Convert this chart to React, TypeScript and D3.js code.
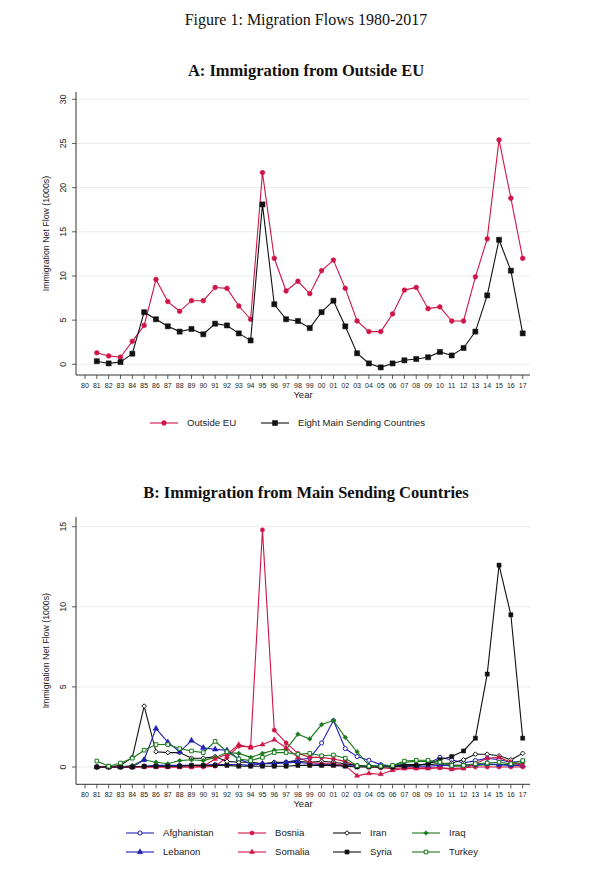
import * as d3 from "d3";

// years with data (1981-2017), x ticks run 1980-2017
const years = [
  1981, 1982, 1983, 1984, 1985, 1986, 1987, 1988, 1989, 1990,
  1991, 1992, 1993, 1994, 1995, 1996, 1997, 1998, 1999, 2000,
  2001, 2002, 2003, 2004, 2005, 2006, 2007, 2008, 2009, 2010,
  2011, 2012, 2013, 2014, 2015, 2016, 2017,
];
const tickYears = [
  1980, 1981, 1982, 1983, 1984, 1985, 1986, 1987, 1988, 1989, 1990,
  1991, 1992, 1993, 1994, 1995, 1996, 1997, 1998, 1999, 2000,
  2001, 2002, 2003, 2004, 2005, 2006, 2007, 2008, 2009, 2010,
  2011, 2012, 2013, 2014, 2015, 2016, 2017,
];
const tickLabels = [
  "80", "81", "82", "83", "84", "85", "86", "87", "88", "89", "90",
  "91", "92", "93", "94", "95", "96", "97", "98", "99", "00",
  "01", "02", "03", "04", "05", "06", "07", "08", "09", "10",
  "11", "12", "13", "14", "15", "16", "17",
];

// panel A
const outsideEU = [
  1.3, 0.95, 0.8, 2.6, 4.4, 9.6, 7.1, 6.0, 7.2, 7.2,
  8.7, 8.6, 6.6, 5.1, 21.7, 12.0, 8.3, 9.4, 8.0, 10.6,
  11.8, 8.6, 4.9, 3.7, 3.7, 5.7, 8.4, 8.7, 6.3, 6.5,
  4.9, 4.9, 9.9, 14.2, 25.4, 18.8, 12.0,
];
const eightMain = [
  0.35, 0.1, 0.25, 1.2, 5.9, 5.1, 4.3, 3.7, 4.0, 3.4,
  4.6, 4.4, 3.5, 2.7, 18.1, 6.8, 5.1, 4.9, 4.1, 5.9,
  7.2, 4.3, 1.25, 0.1, -0.35, 0.1, 0.45, 0.6, 0.8, 1.4,
  1.0, 1.85, 3.7, 7.8, 14.1, 10.6, 3.5,
];
const ticksA = [0, 5, 10, 15, 20, 25, 30];

// panel B
const afghanistan = [
  0, 0, 0, 0, 0.05, 0.1, 0.1, 0.1, 0.1, 0.1,
  0.15, 0.15, 0.15, 0.1, 0.2, 0.25, 0.3, 0.45, 0.55, 1.5,
  2.9, 1.15, 0.65, 0.42, 0.15, 0.06, 0.1, 0.1, 0.2, 0.6,
  0.45, 0.25, 0.4, 0.55, 0.45, 0.3, 0.35,
];
const bosnia = [
  0, 0, 0, 0, 0, 0, 0, 0, 0, 0,
  0.05, 0.6, 1.3, 1.25, 14.8, 2.3, 1.5, 0.85, 0.6, 0.6,
  0.5, 0.35, 0.05, 0, -0.05, -0.1, -0.05, -0.05, -0.05, -0.05,
  -0.1, -0.05, 0, 0, 0, 0, 0,
];
const iran = [
  0, 0, 0.1, 0.6, 3.8, 0.95, 0.9, 0.9, 0.55, 0.55,
  0.65, 0.35, 0.3, 0.3, 0.2, 0.3, 0.3, 0.35, 0.3, 0.35,
  0.3, 0.2, 0.1, 0.05, 0.05, 0.1, 0.15, 0.15, 0.15, 0.2,
  0.25, 0.45, 0.8, 0.8, 0.7, 0.45, 0.85,
];
const iraq = [
  0, 0, 0, 0.1, 0.45, 0.3, 0.2, 0.4, 0.45, 0.4,
  0.6, 0.9, 0.85, 0.6, 0.85, 1.05, 1.1, 2.05, 1.75, 2.65,
  2.9, 1.85, 0.95, 0.12, 0.02, 0.06, 0.3, 0.35, 0.35, 0.2,
  0.05, 0.05, 0.1, 0.15, 0.15, 0.15, 0.25,
];
const lebanon = [
  0, 0, 0, 0, 0.45, 2.4, 1.55, 0.95, 1.65, 1.2,
  1.1, 1.05, 0.5, 0.2, 0.2, 0.2, 0.25, 0.3, 0.2, 0.15,
  0.15, 0.1, 0.05, 0.05, 0.05, 0.05, 0.05, 0.05, 0.05, 0.1,
  0.1, 0.1, 0.15, 0.2, 0.15, 0.1, 0.1,
];
const somalia = [
  0, 0, 0, 0, 0, 0, 0, 0, 0, 0.05,
  0.5, 0.8, 1.4, 1.2, 1.4, 1.7, 1.2, 0.6, 0.3, 0.2,
  0.2, 0.1, -0.55, -0.4, -0.45, -0.2, -0.1, -0.1, -0.1, -0.05,
  -0.15, -0.1, 0.2, 0.55, 0.6, 0.3, 0.1,
];
const syria = [
  0, 0, 0, 0, 0.05, 0.05, 0.05, 0.05, 0.1, 0.1,
  0.1, 0.1, 0.05, 0.05, 0.05, 0.05, 0.05, 0.1, 0.1, 0.1,
  0.1, 0.05, 0, 0, 0, 0, 0.05, 0.1, 0.2, 0.45,
  0.65, 1.0, 1.8, 5.8, 12.6, 9.5, 1.8,
];
const turkey = [
  0.37, 0.05, 0.25, 0.55, 1.05, 1.4, 1.4, 1.15, 1.0, 0.9,
  1.6, 0.95, 0.5, 0.4, 0.6, 0.9, 0.9, 0.8, 0.85, 0.7,
  0.75, 0.55, 0.08, 0.05, 0.05, 0.1, 0.37, 0.42, 0.42, 0.3,
  0.1, 0.1, 0.2, 0.25, 0.3, 0.2, 0.4,
];
const ticksB = [0, 5, 10, 15];

const RED = "#cf1447";
const BLUE = "#1f1fb8";
const GREEN = "#1b7a1b";
const BLACK = "#111";

const sans = "'Liberation Sans', Arial, sans-serif";
const serif = "'Liberation Serif', 'Times New Roman', serif";

type Series = {
  name: string;
  values: number[];
  color: string;
  symbol: d3.SymbolType;
  size: number;
  hollow?: boolean;
};

const seriesA: Series[] = [
  { name: "Outside EU", values: outsideEU, color: RED, symbol: d3.symbolCircle, size: 18 },
  { name: "Eight Main Sending Countries", values: eightMain, color: BLACK, symbol: d3.symbolSquare, size: 26 },
];

const seriesB: Series[] = [
  { name: "Afghanistan", values: afghanistan, color: BLUE, symbol: d3.symbolCircle, size: 13, hollow: true },
  { name: "Bosnia", values: bosnia, color: RED, symbol: d3.symbolCircle, size: 14 },
  { name: "Iran", values: iran, color: BLACK, symbol: d3.symbolDiamond2, size: 14, hollow: true },
  { name: "Iraq", values: iraq, color: GREEN, symbol: d3.symbolDiamond2, size: 14 },
  { name: "Lebanon", values: lebanon, color: BLUE, symbol: d3.symbolTriangle, size: 14 },
  { name: "Somalia", values: somalia, color: RED, symbol: d3.symbolTriangle, size: 11 },
  { name: "Syria", values: syria, color: BLACK, symbol: d3.symbolSquare, size: 17 },
  { name: "Turkey", values: turkey, color: GREEN, symbol: d3.symbolSquare, size: 13, hollow: true },
];

const Marker = ({ s, x, y }: { s: Series; x: number; y: number }) => (
  <path
    d={d3.symbol().type(s.symbol).size(s.size)() || ""}
    transform={`translate(${x},${y})`}
    fill={s.hollow ? "white" : s.color}
    stroke={s.color}
    strokeWidth={s.hollow ? 1 : 0.5}
  />
);

const Panel = ({
  series,
  ticks,
  y0,
  yTop,
  vMax,
  plotTop,
  plotBottom,
}: {
  series: Series[];
  ticks: number[];
  y0: number;
  yTop: number;
  vMax: number;
  plotTop: number;
  plotBottom: number;
}) => {
  const left = 76;
  const right = 530;
  const x = d3.scaleLinear().domain([1980, 2017]).range([85, 522.7]);
  const y = d3.scaleLinear().domain([0, vMax]).range([y0, yTop]);
  const line = d3
    .line<number>()
    .x((_, i) => x(years[i]))
    .y((d) => y(d));
  return (
    <g>
      {ticks.map((t) => (
        <g key={t}>
          <line x1={left} x2={right} y1={y(t)} y2={y(t)} stroke="#ebebeb" strokeWidth={1} />
          <line x1={left - 4} x2={left} y1={y(t)} y2={y(t)} stroke="#333" strokeWidth={0.8} />
          <text
            transform={`translate(${left - 10},${y(t)}) rotate(-90)`}
            textAnchor="middle"
            fontFamily={sans}
            fontSize={8.8}
            fill="#222"
          >
            {t}
          </text>
        </g>
      ))}
      <line x1={left} x2={left} y1={plotTop} y2={plotBottom} stroke="#333" strokeWidth={1} />
      <line x1={left} x2={right} y1={plotBottom} y2={plotBottom} stroke="#333" strokeWidth={1} />
      {tickYears.map((yr, i) => (
        <g key={yr}>
          <line x1={x(yr)} x2={x(yr)} y1={plotBottom} y2={plotBottom + 4} stroke="#333" strokeWidth={0.8} />
          <text x={x(yr)} y={plotBottom + 12.5} textAnchor="middle" fontFamily={sans} fontSize={7} fill="#222">
            {tickLabels[i]}
          </text>
        </g>
      ))}
      <text x={303} y={plotBottom + 23} textAnchor="middle" fontFamily={sans} fontSize={9.5} fill="#222">
        Year
      </text>
      <text
        transform={`translate(48.5,${(plotTop + plotBottom) / 2}) rotate(-90)`}
        textAnchor="middle"
        fontFamily={sans}
        fontSize={8.8}
        fill="#222"
      >
        Immigration Net Flow (1000s)
      </text>
      {series.map((s) => (
        <g key={s.name}>
          <path d={line(s.values) || ""} fill="none" stroke={s.color} strokeWidth={1.1} />
          {s.values.map((v, i) => (
            <Marker key={i} s={s} x={x(years[i])} y={y(v)} />
          ))}
        </g>
      ))}
    </g>
  );
};

const LegendItem = ({ s, x, y }: { s: Series; x: number; y: number }) => (
  <g>
    <line x1={x} x2={x + 28} y1={y} y2={y} stroke={s.color} strokeWidth={1.1} />
    <Marker s={s} x={x + 14} y={y} />
    <text x={x + 37} y={y + 3.4} fontFamily={sans} fontSize={9.6} fill="#222">
      {s.name}
    </text>
  </g>
);

const App = () => {
  const legendB: [number, number][] = [
    [126, 833], [238, 833], [333, 833], [412, 833],
    [126, 852], [238, 852], [333, 852], [412, 852],
  ];
  return (
    <div style={{ position: "absolute", left: 0, top: 0 }}>
      <svg width={613} height={876} viewBox="0 0 613 876" style={{ display: "block", background: "white" }}>
        <text x={306} y={25} textAnchor="middle" fontFamily={serif} fontSize={16} fill="#111">
          Figure 1: Migration Flows 1980-2017
        </text>
        <text x={306} y={76} textAnchor="middle" fontFamily={serif} fontWeight="bold" fontSize={16.5} fill="#111">
          A: Immigration from Outside EU
        </text>
        <Panel series={seriesA} ticks={ticksA} y0={364.3} yTop={99.3} vMax={30} plotTop={92} plotBottom={375} />
        <LegendItem s={seriesA[0]} x={150} y={423} />
        <LegendItem s={seriesA[1]} x={261} y={423} />

        <text x={306} y={498} textAnchor="middle" fontFamily={serif} fontWeight="bold" fontSize={16.5} fill="#111">
          B: Immigration from Main Sending Countries
        </text>
        <Panel series={seriesB} ticks={ticksB} y0={767} yTop={526.7} vMax={15} plotTop={517} plotBottom={784.3} />
        {seriesB.map((s, i) => (
          <LegendItem key={s.name} s={s} x={legendB[i][0]} y={legendB[i][1]} />
        ))}
      </svg>
    </div>
  );
};

export default App;
